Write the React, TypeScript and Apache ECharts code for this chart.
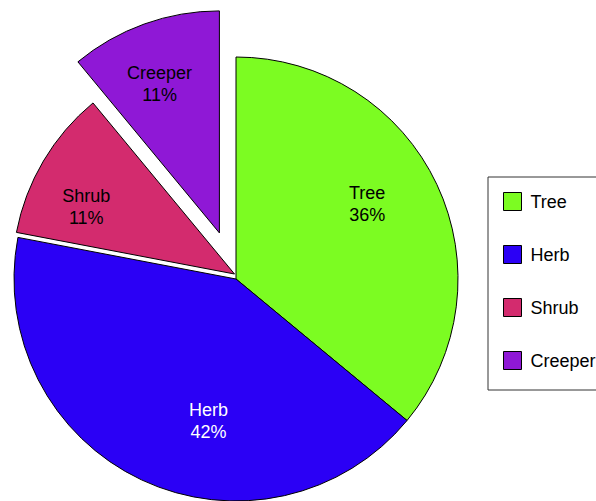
import React, { useEffect, useRef } from "react";
import * as echarts from "echarts";

const categories = ["Tree", "Herb", "Shrub", "Creeper"];
const values = [36, 42, 11, 11];
const colors = ["#7CFC22", "#2B00F5", "#D32B6E", "#8F18D6"];
const labelColors = ["#000000", "#ffffff", "#000000", "#000000"];
// Creeper is pulled out along its bisector; Shrub is nudged slightly up
const CREEPER_OFFSET = 49;
const SHRUB_SHIFT = [-1.5, -5];
// small label nudges (px) relative to the library's label position
const labelNudge = [
  [-10, -9],
  [39, 1],
  [-14, 12],
  [-7, -2],
];

const FONT = "'Liberation Sans', Arial, Helvetica, sans-serif";
const CENTER = [236, 279];
const RADIUS = 222;
const LABEL_PUSH = 42;

function midAngles(): number[] {
  const total = values.reduce((a, b) => a + b, 0);
  let cum = 0;
  return values.map((v) => {
    const start = 90 - (360 * cum) / total;
    cum += v;
    return ((start - (180 * v) / total) * Math.PI) / 180;
  });
}

export default function App() {
  const ref = useRef<HTMLDivElement>(null);
  useEffect(() => {
    if (!ref.current) return;
    const chart = echarts.init(ref.current, null, { renderer: "svg" });
    const mids = midAngles();

    const groups = [
      { center: CENTER, members: [0, 1, 3] },
      { center: [CENTER[0] + SHRUB_SHIFT[0], CENTER[1] + SHRUB_SHIFT[1]], members: [2] },
    ];

    const series = groups.map((grp, si) => ({
      type: "pie",
      name: "s" + si,
      center: grp.center,
      radius: [0, RADIUS],
      startAngle: 90,
      clockwise: true,
      selectedMode: "multiple",
      selectedOffset: CREEPER_OFFSET,
      percentPrecision: 0,
      legendHoverLink: false,
      emphasis: { disabled: true },
      select: { itemStyle: { borderColor: "#000", borderWidth: 1 } },
      label: {
        show: true,
        position: "inside",
        formatter: "{b}\n{d}%",
        fontFamily: FONT,
        fontSize: 18,
        lineHeight: 22,
        align: "center",
      },
      labelLine: { show: false },
      labelLayout: (p: any) => {
        const a = mids[p.dataIndex];
        const n = labelNudge[p.dataIndex];
        return { dx: Math.cos(a) * LABEL_PUSH + n[0], dy: -Math.sin(a) * LABEL_PUSH + n[1] };
      },
      data: categories.map((name, i) => {
        const member = grp.members.includes(i);
        return {
          name,
          value: values[i],
          selected: member && name === "Creeper",
          itemStyle: member
            ? { color: colors[i], borderColor: "#000", borderWidth: 1 }
            : { color: "rgba(0,0,0,0)", borderWidth: 0 },
          label: member ? { show: true, color: labelColors[i] } : { show: false },
        };
      }),
    }));

    chart.setOption({
      animation: false,
      legend: {
        orient: "vertical",
        left: 488,
        top: 177,
        padding: [15, 40, 20, 15],
        itemWidth: 18,
        itemHeight: 18,
        itemGap: 34,
        borderColor: "#333",
        borderWidth: 1,
        selectedMode: false,
        icon: "rect",
        textStyle: { fontFamily: FONT, fontSize: 18, color: "#000", padding: [0, 0, 0, 4] },
        data: categories.map((name, i) => ({
          name,
          itemStyle: { color: colors[i], borderColor: "#000", borderWidth: 1, opacity: 1 },
        })),
      },
      series,
    });
    return () => chart.dispose();
  }, []);
  return (
    <div
      ref={ref}
      style={{ position: "fixed", left: 0, top: 0, width: 596, height: 501, background: "#fff" }}
    />
  );
}
